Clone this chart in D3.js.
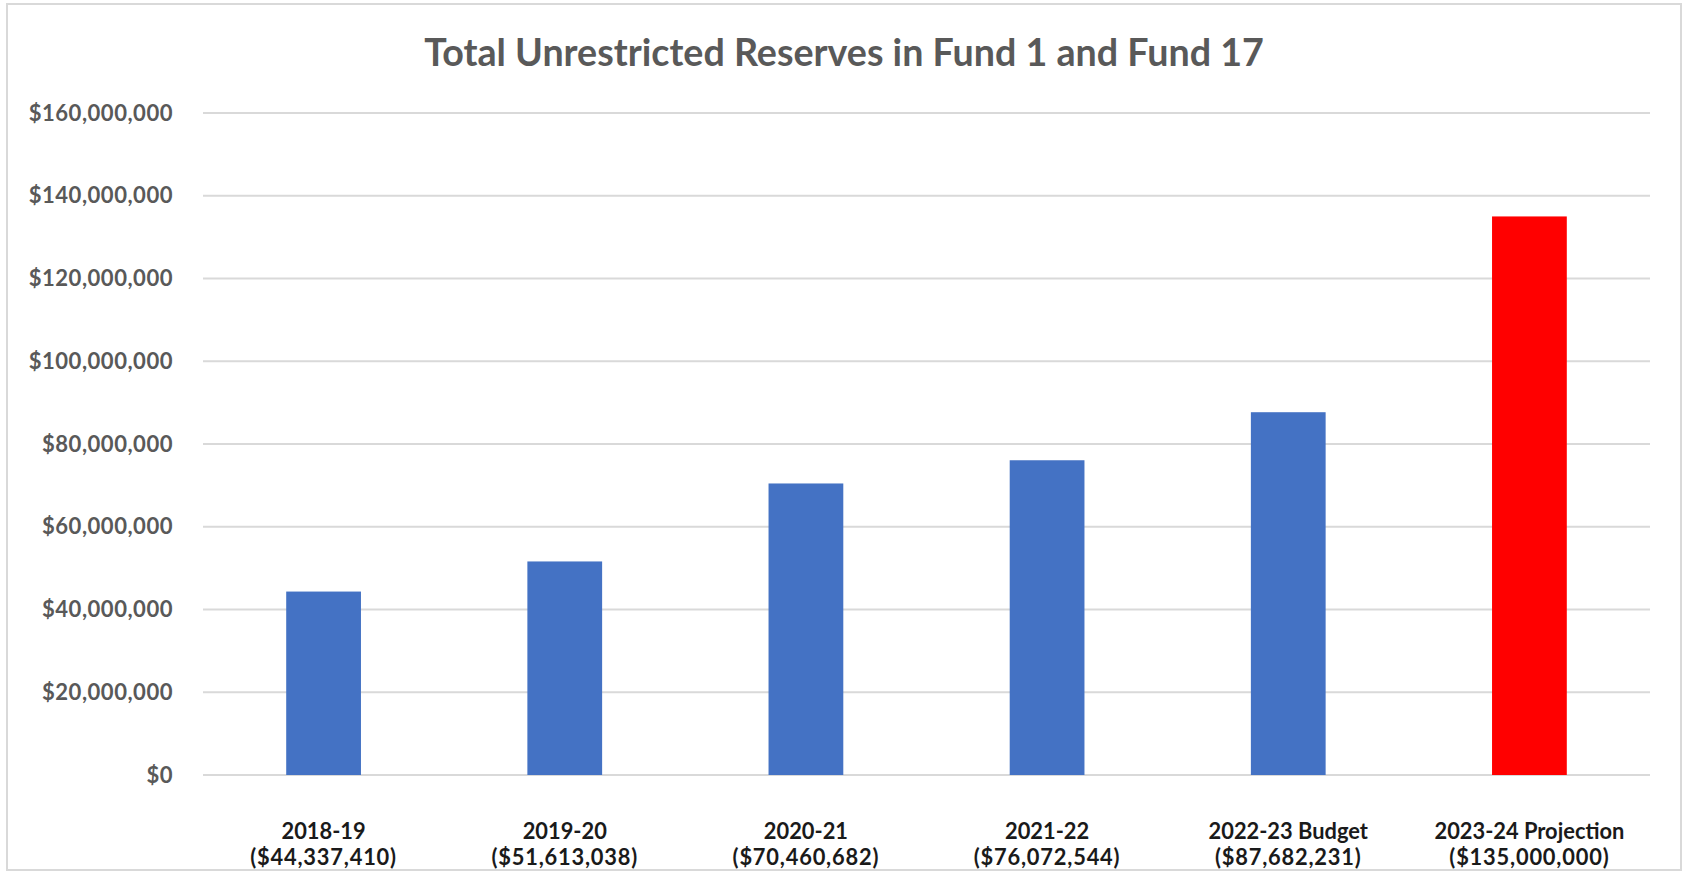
<!DOCTYPE html>
<html>
<head>
<meta charset="utf-8">
<script src="https://cdn.jsdelivr.net/npm/d3@7"></script>
<style>
  html, body { margin: 0; padding: 0; background: #fff; }
  svg { display: block; }
  text { font-family: Lato, "Open Sans", sans-serif; font-weight: 700; }
</style>
</head>
<body>
<svg id="chart" width="1689" height="872"></svg>
<script>
// Fiscal years and their unrestricted reserve totals (Fund 1 + Fund 17)
const years = ["2018-19", "2019-20", "2020-21", "2021-22", "2022-23 Budget", "2023-24 Projection"];
const reserves = [44337410, 51613038, 70460682, 76072544, 87682231, 135000000];
const barColors = ["#4472C4", "#4472C4", "#4472C4", "#4472C4", "#4472C4", "#FF0000"];
const yTicks = [0, 20000000, 40000000, 60000000, 80000000, 100000000, 120000000, 140000000, 160000000];
const title = "Total Unrestricted Reserves in Fund 1 and Fund 17";

const data = years.map((y, i) => ({ year: y, value: reserves[i], color: barColors[i] }));

const svg = d3.select("#chart");
const plot = { left: 203, right: 1650, top: 113, bottom: 775 };

// chart frame
svg.append("rect")
  .attr("x", 7).attr("y", 4).attr("width", 1674).attr("height", 866)
  .attr("fill", "#fff").attr("stroke", "#d9d9d9").attr("stroke-width", 2);

const x = d3.scaleBand()
  .domain(years)
  .range([plot.left, plot.right])
  .paddingInner(0.69)
  .paddingOuter(0.345);

const y = d3.scaleLinear()
  .domain([0, 160000000])
  .range([plot.bottom, plot.top]);

const money = v => "$" + d3.format(",")(v);

// Scale a text selection's font size so its widest item spans the given width
function fitWidth(sel, target) {
  let maxW = 0;
  sel.each(function () { maxW = Math.max(maxW, this.getComputedTextLength()); });
  const fs = parseFloat(sel.attr("font-size"));
  sel.attr("font-size", fs * target / maxW);
}

// horizontal gridlines
svg.append("g")
  .selectAll("line")
  .data(yTicks)
  .join("line")
  .attr("x1", plot.left).attr("x2", plot.right)
  .attr("y1", d => y(d)).attr("y2", d => y(d))
  .attr("stroke", "#d9d9d9").attr("stroke-width", 2);

// y axis labels
const yAxis = svg.append("g")
  .attr("transform", `translate(${plot.left},0)`)
  .call(d3.axisLeft(y).tickValues(yTicks).tickFormat(money).tickSize(0).tickPadding(30));
yAxis.select(".domain").remove();
const yLabels = yAxis.selectAll("text")
  .attr("fill", "#595959")
  .attr("font-family", "Lato, 'Open Sans', sans-serif")
  .attr("font-weight", 700)
  .attr("font-size", 20)
  .style("letter-spacing", "0.5px");
fitWidth(yLabels, 145);

// bars
svg.append("g")
  .selectAll("rect")
  .data(data)
  .join("rect")
  .attr("x", d => x(d.year))
  .attr("width", x.bandwidth())
  .attr("y", d => y(d.value))
  .attr("height", d => y(0) - y(d.value))
  .attr("fill", d => d.color);

// category labels: year on the first line, amount in parentheses below
const xl = svg.append("g")
  .selectAll("text")
  .data(data)
  .join("text")
  .attr("text-anchor", "middle")
  .attr("fill", "#1a1a1a")
  .attr("font-size", 20);
xl.append("tspan").attr("x", d => x(d.year) + x.bandwidth() / 2).attr("y", 839).text(d => d.year);
xl.append("tspan").attr("x", d => x(d.year) + x.bandwidth() / 2).attr("y", 865).text(d => "(" + money(d.value) + ")")
  .style("letter-spacing", "0.8px");
{
  // size from the longest first-line label
  const probe = svg.append("text").attr("font-size", 20).text(years[years.length - 1]);
  const w = probe.node().getComputedTextLength();
  probe.remove();
  xl.attr("font-size", 20 * 190 / w);
}

// title
const t = svg.append("text")
  .attr("x", 844).attr("y", 66)
  .attr("text-anchor", "middle")
  .attr("fill", "#595959")
  .attr("font-size", 32)
  .text(title);
fitWidth(t, 840);
</script>
</body>
</html>
